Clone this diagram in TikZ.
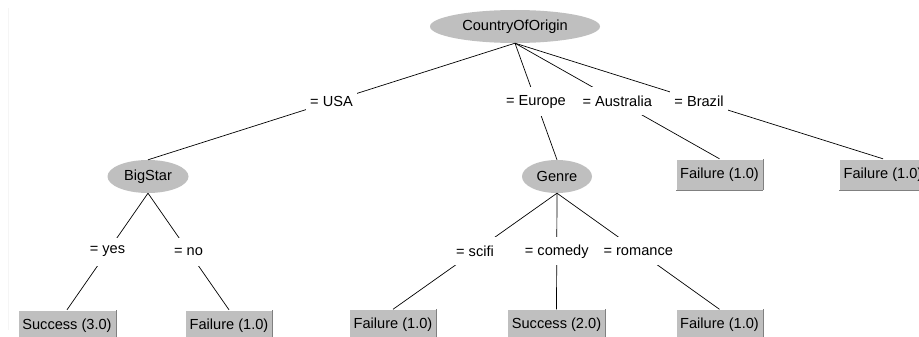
\documentclass[tikz,border=0pt]{standalone}
\usepackage{fontspec}
\setmainfont{Liberation Sans}
\usepackage{xcolor}
\usetikzlibrary{shapes.geometric}

\tikzset{
    txt/.style={font=\fontsize{14.6}{16}\selectfont},
    attr/.style={txt, ellipse, fill=gray!50, inner sep=0pt, minimum height=33pt},
    leaf/.style={txt, rectangle, fill=gray!50, inner xsep=4pt, minimum height=31pt,
        append after command={
            (\tikzlastnode.south west) edge[white] (\tikzlastnode.north west)
            (\tikzlastnode.north west) edge[white] (\tikzlastnode.north east)
            (\tikzlastnode.south west) edge[gray] (\tikzlastnode.south east)
            (\tikzlastnode.south east) edge[gray] (\tikzlastnode.north east)}},
    val/.style={txt, fill=white, inner xsep=4pt, minimum height=28pt},
    branch/.style={black, line width=0.7pt}
}

\begin{document}
\begin{tikzpicture}[x=1pt, y=-1pt]
        \useasboundingbox (0, 0) rectangle (919, 337);
        \draw[gray!8] (8, 8) -- (8, 330);
        % inner nodes
        \node[attr, minimum width=170pt] (country) at (515, 26.5) {CountryOfOrigin};
        \node[attr, minimum width=81pt] (bigstar) at (148, 176.5) {BigStar};
        \node[attr, minimum width=70pt] (genre) at (557, 176.5) {Genre};
        % leaves
        \node[leaf] (australia) at (719.5, 174.5) {Failure (1.0)};
        \node[leaf] (brazil) at (883, 174.5) {Failure (1.0)};
        \node[leaf] (yes) at (67, 325.5) {Success (3.0)};
        \node[leaf] (no) at (229, 325.5) {Failure (1.0)};
        \node[leaf] (scifi) at (393, 325) {Failure (1.0)};
        \node[leaf] (comedy) at (556.5, 325) {Success (2.0)};
        \node[leaf] (romance) at (719.5, 325) {Failure (1.0)};
        % branches
        \draw[branch] (country.south) -- (bigstar.north) node[midway, val] {= USA};
        \draw[branch] (country.south) -- (genre.north) node[midway, val] {= Europe};
        \draw[branch] (country.south) -- (australia.north) node[midway, val] {= Australia};
        \draw[branch] (country.south) -- (brazil.north) node[midway, val] {= Brazil};
        \draw[branch] (bigstar.south) -- (yes.north) node[midway, val] {= yes};
        \draw[branch] (bigstar.south) -- (no.north) node[midway, val] {= no};
        \draw[branch] (genre.south) -- (scifi.north) node[midway, val] {= scifi};
        \draw[branch] (genre.south) -- (comedy.north) node[midway, val] {= comedy};
        \draw[branch] (genre.south) -- (romance.north) node[midway, val] {= romance};
    \end{tikzpicture}
\end{document}
